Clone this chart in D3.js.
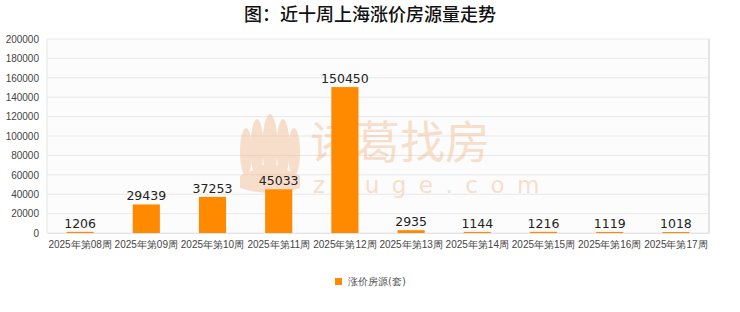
<!DOCTYPE html>
<html>
<head>
<meta charset="utf-8">
<script src="https://cdn.jsdelivr.net/npm/d3@7"></script>
<style>
  body { margin: 0; background: #fff; }
  svg { display: block; }
</style>
</head>
<body>
<div id="chart"></div>
<script>
const weeks = ["2025年第08周", "2025年第09周", "2025年第10周", "2025年第11周", "2025年第12周",
  "2025年第13周", "2025年第14周", "2025年第15周", "2025年第16周", "2025年第17周"];
const listings = [1206, 29439, 37253, 45033, 150450, 2935, 1144, 1216, 1119, 1018];
const yTicks = [0, 20000, 40000, 60000, 80000, 100000, 120000, 140000, 160000, 180000, 200000];

const width = 740, height = 312;
const margin = { top: 39, right: 31, bottom: 79, left: 47 };
const innerW = width - margin.left - margin.right;
const innerH = height - margin.top - margin.bottom;

const svg = d3.select("#chart").append("svg")
  .attr("width", width).attr("height", height)
  .style("font-family", "'DejaVu Sans', sans-serif");

svg.append("text")
  .attr("x", width / 2).attr("y", 21)
  .attr("text-anchor", "middle")
  .style("font-family", "'Noto Sans CJK SC', sans-serif")
  .style("font-size", "18px").style("font-weight", "500")
  .attr("fill", "#111")
  .text("图：近十周上海涨价房源量走势");

const g = svg.append("g").attr("transform", `translate(${margin.left},${margin.top})`);

const x = d3.scaleBand().domain(weeks).range([0, innerW]).paddingInner(0.59).paddingOuter(0.295);
const y = d3.scaleLinear().domain([0, 200000]).range([innerH, 0]);

g.append("rect").attr("width", innerW).attr("height", innerH).attr("fill", "#fcfcfc");

// grid
g.selectAll(".grid").data(yTicks).enter().append("line")
  .attr("x1", 0).attr("x2", innerW)
  .attr("y1", d => y(d)).attr("y2", d => y(d))
  .attr("stroke", "#e8e8e8").attr("stroke-width", 1);
g.append("line").attr("x1", innerW).attr("x2", innerW).attr("y1", 0).attr("y2", innerH)
  .attr("stroke", "#e4e4e4").attr("stroke-width", 2);
g.append("line").attr("x1", 0).attr("x2", 0).attr("y1", 0).attr("y2", innerH)
  .attr("stroke", "#e4e4e4");

// watermark
const wm = g.append("g").attr("opacity", 0.38).attr("fill", "#f0b07a");
const lotus = wm.append("g").attr("transform", "translate(223,79)");
[[-24, 34, 6, 24], [-13, 30, 6.5, 29], [0, 28, 7.5, 32], [13, 30, 6.5, 29], [24, 34, 6, 24]].forEach(p => {
  lotus.append("ellipse").attr("cx", p[0]).attr("cy", p[1]).attr("rx", p[2]).attr("ry", p[3]);
});
lotus.append("path").attr("d", "M-30,58 L0,44 L30,58 L30,70 Q0,80 -30,70 Z");
wm.append("text").attr("x", 263).attr("y", 120)
  .style("font-family", "'Noto Sans CJK SC', sans-serif").style("font-size", "45px")
  .text("诸葛找房");
wm.append("text").attr("x", 266).attr("y", 154)
  .style("font-family", "'DejaVu Sans', sans-serif").style("font-size", "23px")
  .style("letter-spacing", "12.5px")
  .text("zhuge.com");

// bars
g.selectAll(".bar").data(listings).enter().append("rect")
  .attr("x", (d, i) => x(weeks[i]))
  .attr("y", d => y(d))
  .attr("width", x.bandwidth())
  .attr("height", d => innerH - y(d))
  .attr("fill", "#ff8a00");

g.selectAll(".val").data(listings).enter().append("text")
  .attr("x", (d, i) => x(weeks[i]) + x.bandwidth() / 2)
  .attr("y", d => y(d) - 4)
  .attr("text-anchor", "middle")
  .style("font-size", "12.5px").attr("fill", "#222")
  .text(d => d);

// axes
const yAxis = g.append("g").call(d3.axisLeft(y).tickValues(yTicks).tickFormat(d3.format("d")).tickSize(0).tickPadding(8));
yAxis.select(".domain").remove();
yAxis.selectAll("text").style("font-size", "10px").attr("fill", "#444");

const xAxis = g.append("g").attr("transform", `translate(0,${innerH})`)
  .call(d3.axisBottom(d3.scaleBand().domain(weeks).range([0, innerW])).tickSize(0).tickPadding(8));
xAxis.select(".domain").attr("stroke", "#e4e4e4");
xAxis.selectAll("text").style("font-size", "10px").attr("fill", "#444");

// legend
const lg = svg.append("g").attr("transform", "translate(335,276)");
lg.append("rect").attr("width", 7).attr("height", 7).attr("y", 2).attr("fill", "#ff8a00");
lg.append("text").attr("x", 13).attr("y", 9)
  .style("font-size", "10px").attr("fill", "#555").text("涨价房源(套)");
</script>
</body>
</html>
